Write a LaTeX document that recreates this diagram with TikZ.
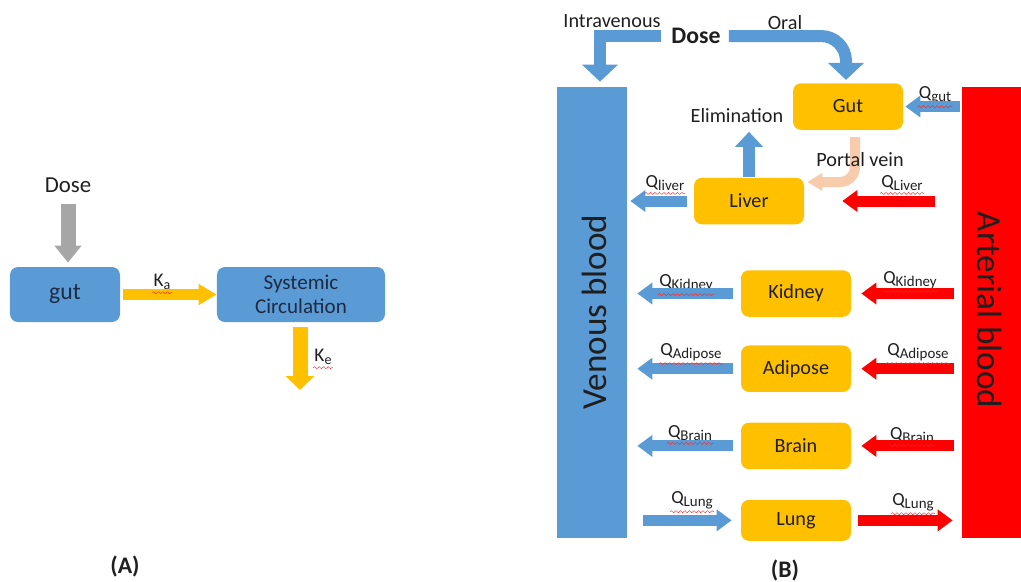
\documentclass[tikz,border=0pt]{standalone}
\usepackage{fontspec}
\setmainfont{Carlito}
\usetikzlibrary{arrows.meta, positioning, decorations.pathmorphing}

\definecolor{pkblue}{HTML}{5B9BD5}
\definecolor{pkyellow}{HTML}{FFC000}
\definecolor{pkred}{HTML}{FF0000}
\definecolor{pkgray}{HTML}{A6A6A6}
\definecolor{pkpeach}{HTML}{F8CBAD}
\definecolor{pknavy}{HTML}{1F2A44}

\newcommand{\flowq}[1]{{\fontsize{10.5}{12}\selectfont Q}\raisebox{-0.4ex}{\fontsize{8.5}{10}\selectfont #1}}
\newcommand{\rateK}[1]{{\fontsize{11}{12}\selectfont K}\raisebox{-0.4ex}{\fontsize{8}{9}\selectfont #1}}

\begin{document}
\begin{tikzpicture}[
    x=0.2mm, y=-0.2mm,
    node distance=6mm,
    text=black!88,
    compA/.style={rectangle, rounded corners=1.6mm, fill=pkblue, text=pknavy, align=center, minimum height=11mm},
    organ/.style={rectangle, rounded corners=1.6mm, fill=pkyellow, minimum width=22mm, minimum height=9.3mm, font=\fontsize{11.5}{13}\selectfont},
    bloodbar/.style={rectangle, inner sep=0pt, minimum height=90.2mm},
    bartext/.style={font=\fontsize{20}{22}\selectfont},
    txtB/.style={font=\fontsize{11.5}{13}\selectfont},
    lbl/.style={inner sep=0.5pt},
    spell/.style={draw=pkred!85, line width=0.25pt, decorate, decoration={snake, amplitude=0.2mm, segment length=0.9mm}},
    qflow/.style={line width=2.2mm, -{Triangle[width=4.2mm, length=3mm]}, shorten <=1.6mm, shorten >=2mm},
    grayflow/.style={line width=3mm, draw=pkgray, -{Triangle[width=5.2mm, length=3.4mm]}},
    yflow/.style={line width=2.2mm, draw=pkyellow, -{Triangle[width=4mm, length=3.6mm]}},
    yflowdown/.style={line width=3mm, draw=pkyellow, -{Triangle[width=5.6mm, length=2.8mm]}},
    doseflow/.style={line width=2.4mm, draw=pkblue, -{Triangle[width=7mm, length=3.4mm]}},
    portalflow/.style={line width=2mm, draw=pkpeach, -{Triangle[width=3.4mm, length=3mm]}},
    elimflow/.style={line width=2.4mm, draw=pkblue, -{Triangle[width=5.4mm, length=3mm]}}
]
\useasboundingbox (0,0) rectangle (1021,582);

% (A) one-compartment model
\node[font=\fontsize{13}{15}\selectfont] (doseA) at (68,185) {Dose};
\node[compA, minimum width=22mm, font=\fontsize{13.5}{15}\selectfont] (gutA) at (65,294.5) {gut};
\node[compA, minimum width=33.6mm, font=\fontsize{12}{14}\selectfont] (sysA) at (301,294.5) {Systemic\\Circulation};
\coordinate (outA) at (300,390);
\node[lbl] (ka) at (162,282) {\rateK{a}};
\node[lbl] (ke) at (323,357) {\rateK{e}};
\node[font=\bfseries\fontsize{13.5}{15}\selectfont] (capA) at (125,566) {(A)};

\draw[grayflow, shorten <=1mm, shorten >=0.8mm] (doseA) -- (doseA |- gutA.north);
\draw[yflow, yshift=-0.5mm, shorten <=0.6mm] (gutA.east) -- (sysA.west);
\draw[yflowdown, shorten <=1mm] (sysA.south -| outA) -- (outA);

% (B) PBPK model
\node[bloodbar, fill=pkblue, minimum width=14mm] (venous) at (592,312.5) {};
\node[bloodbar, fill=pkred, minimum width=11.8mm] (arterial) at (991.5,312.5) {};
\node[bartext, rotate=90] (venoustxt) at (594,312) {Venous blood};
\node[bartext, rotate=-90] (arterialtxt) at (990,310) {Arterial blood};

\node[font=\bfseries\fontsize{13.5}{15}\selectfont] (doseB) at (696,36) {Dose};
\node[txtB] (iv) at (612,21) {Intravenous};
\node[txtB] (oral) at (785,23) {Oral};
\node[txtB] (elim) at (737,116) {Elimination};

\node[organ] (gutB) at (848,106.5) {Gut};
\node[organ] (liver) at (749,201) {Liver};
\node[organ] (kidney) at (796,293.5) {Kidney};
\node[organ, below=5.6mm of kidney] (adipose) {Adipose};
\node[organ, below=of adipose] (brain) {Brain};
\node[organ, below=of brain, minimum height=8.2mm] (lung) {Lung};

\node[lbl] (qgut) at (935,95) {\flowq{gut}};
\node[lbl] (qliverv) at (665,183) {\flowq{liver}};
\node[lbl] (qlivera) at (902,183) {\flowq{Liver}};
\node[lbl] (qkidneyv) at (686,283) {\flowq{Kidney}};
\node[lbl] (qkidneya) at (910,280) {\flowq{Kidney}};
\node[lbl] (qadiposev) at (691,352) {\flowq{Adipose}};
\node[lbl] (qadiposea) at (918,352) {\flowq{Adipose}};
\node[lbl] (qbrainv) at (690,433) {\flowq{Brain}};
\node[lbl] (qbraina) at (912,435) {\flowq{Brain}};
\node[lbl] (qlungv) at (692,500) {\flowq{Lung}};
\node[lbl] (qlunga) at (913,502) {\flowq{Lung}};
\node[font=\bfseries\fontsize{13.5}{15}\selectfont, inner sep=1pt] (capB) at (785,570) {(B)};

% dosing routes
\draw[doseflow, shorten <=0.8mm, shorten >=1mm] (doseB.west) -| ([xshift=1.6mm]venous.north);
\draw[doseflow, rounded corners=5mm, shorten <=0.4mm, shorten >=0.6mm] (doseB.east) -| ([xshift=-0.4mm]gutB.north);
\draw[portalflow, rounded corners=3mm, shorten <=1.4mm, shorten >=0.6mm] ([xshift=1.4mm]gutB.south) |- ([yshift=3.8mm]liver.east);
\draw[elimflow, shorten >=0.5mm] (liver.north) -- (liver.north |- elim.south);
\node[txtB] (portal) at (860,160) {Portal vein};

% blood flows
\draw[qflow, pkblue, yshift=-1.3mm, shorten <=0.4mm, shorten >=0.4mm] (arterial.west |- gutB.east) -- (gutB.east);
\draw[qflow, pkblue, shorten <=1.4mm, shorten >=0.6mm] (liver.west) -- (venous.east |- liver.west);
\draw[qflow, pkred, shorten <=5.4mm, shorten >=7.6mm] (arterial.west |- liver.east) -- (liver.east);
\draw[qflow, pkblue, yshift=-0.5mm] (kidney.west) -- (venous.east |- kidney.west);
\draw[qflow, pkred] (arterial.west |- kidney.east) -- (kidney.east);
\draw[qflow, pkblue] (adipose.west) -- (venous.east |- adipose.west);
\draw[qflow, pkred] (arterial.west |- adipose.east) -- (adipose.east);
\draw[qflow, pkblue, yshift=-1.3mm] (brain.west) -- (venous.east |- brain.west);
\draw[qflow, pkred, yshift=-1.3mm] (arterial.west |- brain.east) -- (brain.east);
\draw[qflow, pkblue, yshift=-0.4mm, shorten <=3.2mm, shorten >=1.8mm] (venous.east |- lung.west) -- (lung.west);
\draw[qflow, pkred, yshift=-0.4mm, shorten <=1.4mm, shorten >=1.8mm] (lung.east) -- (arterial.west |- lung.east);

% spell-check squiggles under the rate labels
\foreach \lb in {ka,ke,qgut,qliverv,qlivera,qkidneyv,qkidneya,qadiposev,qadiposea,qbrainv,qbraina,qlungv,qlunga}
  \draw[spell] ([yshift=-0.3mm]\lb.south west) -- ([yshift=-0.3mm]\lb.south east);

\end{tikzpicture}
\end{document}
